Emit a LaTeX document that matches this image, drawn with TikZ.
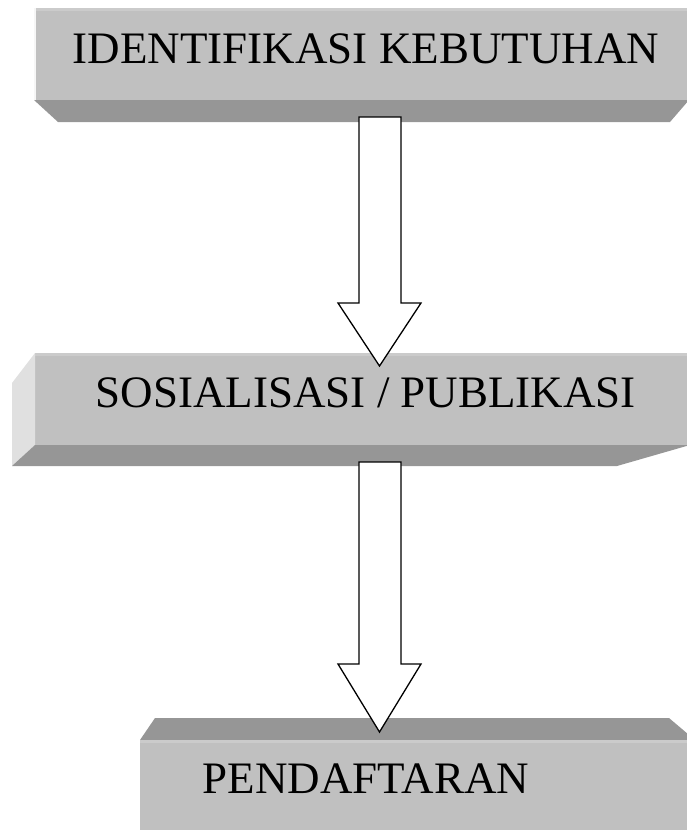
\documentclass[tikz,border=0pt]{standalone}
\usepackage{fontspec}
\setmainfont{Liberation Serif}
\definecolor{facegray}{HTML}{C0C0C0}
\definecolor{bevelgray}{HTML}{969696}
\definecolor{sidegray}{HTML}{E0E0E0}
\definecolor{edgegray}{HTML}{CBCBCB}
\begin{document}
\begin{tikzpicture}[x=1pt,y=-1pt,
  face/.style={fill=facegray,draw=none},
  bevel/.style={fill=bevelgray,draw=none},
  side/.style={fill=sidegray,draw=none},
  rim/.style={fill=edgegray,draw=none},
  label/.style={anchor=base,inner sep=0pt,font=\fontsize{45}{54}\selectfont},
  blockarrow/.style={fill=white,draw=black,line width=1.3pt,line join=miter}]
\useasboundingbox (0,0) rectangle (687,830);
\clip (0,0) rectangle (687,830);

% first block: front face with its underside
\path[face] (34,8) rectangle (700,100);
\path[rim] (34,8) rectangle (700,10.5);
\path[fill=white!85!facegray] (34,8) rectangle (35.5,100);
\path[bevel] (34,100) -- (689,100) -- (670,122) -- (58,122) -- cycle;
\node[label] (identifikasi) at (366,63) {IDENTIFIKASI KEBUTUHAN};

% second block: front face, left side and underside
\path[face] (35,353) rectangle (700,445);
\path[rim] (35,353) rectangle (700,355.5);
\path[side] (35,353) -- (12,383) -- (12,466) -- (35,445) -- cycle;
\path[bevel] (35,445) -- (690,445) -- (617,466) -- (12,466) -- cycle;
\node[label] (sosialisasi) at (366,407) {SOSIALISASI / PUBLIKASI};

% third block: top face and front face
\path[bevel] (155,718) -- (669,718) -- (695,740) -- (140,740) -- cycle;
\path[face] (140,740) rectangle (700,840);
\path[rim] (140,740) rectangle (700,743);
\node[label] (pendaftaran) at (366,793) {PENDAFTARAN};

% hollow block arrows between the stages
\draw[blockarrow] (359,117) -- (401,117) -- (401,303) -- (421,303)
  -- (379.5,366) -- (338,303) -- (359,303) -- cycle;
\draw[blockarrow] (359,462) -- (401,462) -- (401,664) -- (421,664)
  -- (379.5,732) -- (338,664) -- (359,664) -- cycle;
\end{tikzpicture}
\end{document}
